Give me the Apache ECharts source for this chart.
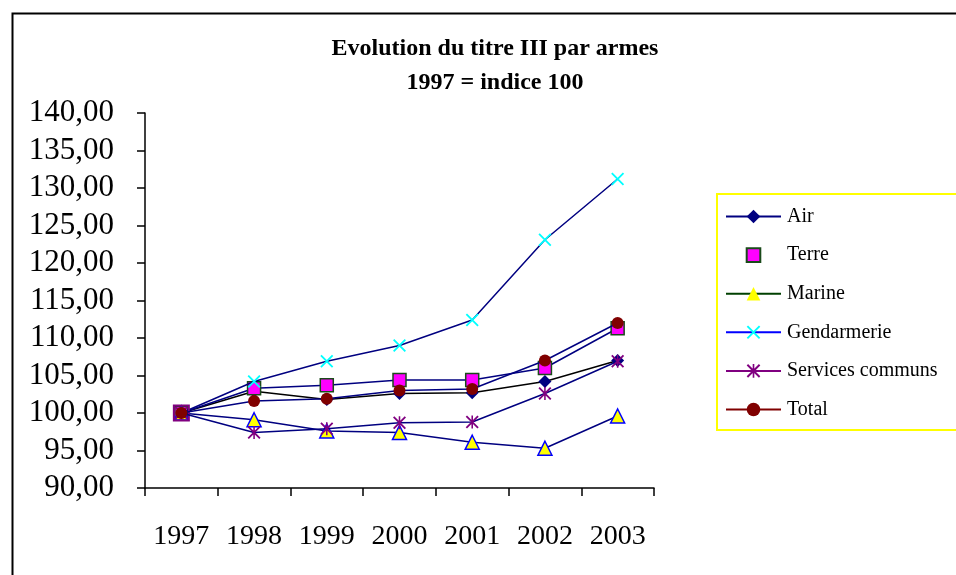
<!DOCTYPE html>
<html>
<head>
<meta charset="utf-8">
<script src="https://cdn.jsdelivr.net/npm/echarts@6/dist/echarts.min.js"></script>
<style>html,body{margin:0;padding:0;background:#fff}#c{width:956px;height:575px}</style>
</head>
<body>
<div id="c"></div>
<script>
const years = ['1997','1998','1999','2000','2001','2002','2003'];
const air = [100, 102.9, 101.8, 102.6, 102.7, 104.2, 107.0];
const terre = [100, 103.3, 103.7, 104.4, 104.4, 106.0, 111.3];
const marine = [100, 99.1, 97.6, 97.4, 96.1, 95.3, 99.6];
const gendarmerie = [100, 104.2, 106.9, 109.0, 112.4, 123.1, 131.2];
const services = [100, 97.4, 97.9, 98.7, 98.8, 102.6, 106.9];
const total = [100, 101.6, 101.9, 103.0, 103.2, 107.0, 112.0];
const yMin = 90, yMax = 140, yStep = 5;

const XSYM = 'path://M0,1 L1,0 L10,9 L9,10 Z M9,0 L10,1 L1,10 L0,9 Z';
const ASTER = 'path://M0,1 L1,0 L10,9 L9,10 Z M9,0 L10,1 L1,10 L0,9 Z M4.4,0 L5.6,0 L5.6,10 L4.4,10 Z';
const FONT = 'Liberation Serif';
const NAVY = '#000080';

const chart = echarts.init(document.getElementById('c'), null, {renderer: 'canvas'});
const gendData = gendarmerie.map((v, i) => i === 0
  ? {value: v, symbol: 'rect', symbolSize: 15, itemStyle: {color: 'rgba(0,0,0,0)', borderColor: '#800080', borderWidth: 2}}
  : v);

chart.setOption({
  animation: false,
  backgroundColor: '#fff',
  graphic: [{
    type: 'rect', left: 10, top: 11, shape: {width: 980, height: 600},
    style: {fill: 'none', stroke: '#000', lineWidth: 2}, silent: true, z: -1
  }],
  title: {
    text: 'Evolution du titre III par armes\n1997 = indice 100',
    left: 490, top: 27, textAlign: 'center',
    textStyle: {fontFamily: FONT, fontWeight: 'bold', fontSize: 24, lineHeight: 34, color: '#000'}
  },
  legend: {
    orient: 'vertical', left: 717, top: 194,
    padding: [12, 60, 10, 8],
    itemWidth: 55, itemHeight: 17, itemGap: 17.6,
    borderColor: '#ffff00', borderWidth: 2, backgroundColor: '#fff',
    textStyle: {fontFamily: FONT, fontSize: 20, color: '#000', padding: [0, 0, 0, 1], lineHeight: 21},
    data: [
      {name: 'Air', lineStyle: {color: NAVY}},
      {name: 'Terre', lineStyle: {opacity: 0}},
      {name: 'Marine', lineStyle: {color: '#004000'}, itemStyle: {borderWidth: 0}},
      {name: 'Gendarmerie', lineStyle: {color: '#0000ff'}},
      {name: 'Services communs', lineStyle: {color: '#800080'}},
      {name: 'Total', lineStyle: {color: '#800000'}}
    ]
  },
  grid: {left: 145, right: 302, top: 113, bottom: 87, containLabel: false},
  xAxis: {
    type: 'category', data: years, boundaryGap: true,
    axisLine: {lineStyle: {color: '#000', width: 1.5}},
    axisTick: {show: true, length: 8, alignWithLabel: false, interval: 0, lineStyle: {color: '#000', width: 1.5}},
    axisLabel: {fontFamily: FONT, fontSize: 28, color: '#000', margin: 35, interval: 0},
    splitLine: {show: false}
  },
  yAxis: {
    type: 'value', min: yMin, max: yMax, interval: yStep,
    axisLine: {show: true, lineStyle: {color: '#000', width: 1.5}},
    axisTick: {show: true, length: 8, lineStyle: {color: '#000', width: 1.5}},
    axisLabel: {fontFamily: FONT, fontSize: 31, color: '#000', margin: 31,
      formatter: v => v.toFixed(2).replace('.', ',')},
    splitLine: {show: false}
  },
  series: [
    {name: 'Air', type: 'line', data: air, symbol: 'diamond', symbolSize: 13,
      lineStyle: {color: '#000', width: 1.5}, itemStyle: {color: NAVY}, z: 2},
    {name: 'Terre', type: 'line', data: terre, symbol: 'rect', symbolSize: 13,
      lineStyle: {color: NAVY, width: 1.5}, itemStyle: {color: '#ff00ff', borderColor: '#1a4a1a', borderWidth: 1.5}, z: 3},
    {name: 'Marine', type: 'line', data: marine, symbol: 'triangle', symbolSize: 14,
      lineStyle: {color: NAVY, width: 1.5}, itemStyle: {color: '#ffff00', borderColor: '#0000ff', borderWidth: 1.5}, z: 4},
    {name: 'Gendarmerie', type: 'line', data: gendData, symbol: XSYM, symbolSize: 13,
      lineStyle: {color: NAVY, width: 1.5}, itemStyle: {color: '#00ffff'}, z: 5},
    {name: 'Services communs', type: 'line', data: services, symbol: ASTER, symbolSize: 13,
      lineStyle: {color: NAVY, width: 1.5}, itemStyle: {color: '#800080'}, z: 6},
    {name: 'Total', type: 'line', data: total, symbol: 'circle', symbolSize: 12,
      lineStyle: {color: NAVY, width: 1.5}, itemStyle: {color: '#800000'}, z: 7}
  ]
});
</script>
</body>
</html>
